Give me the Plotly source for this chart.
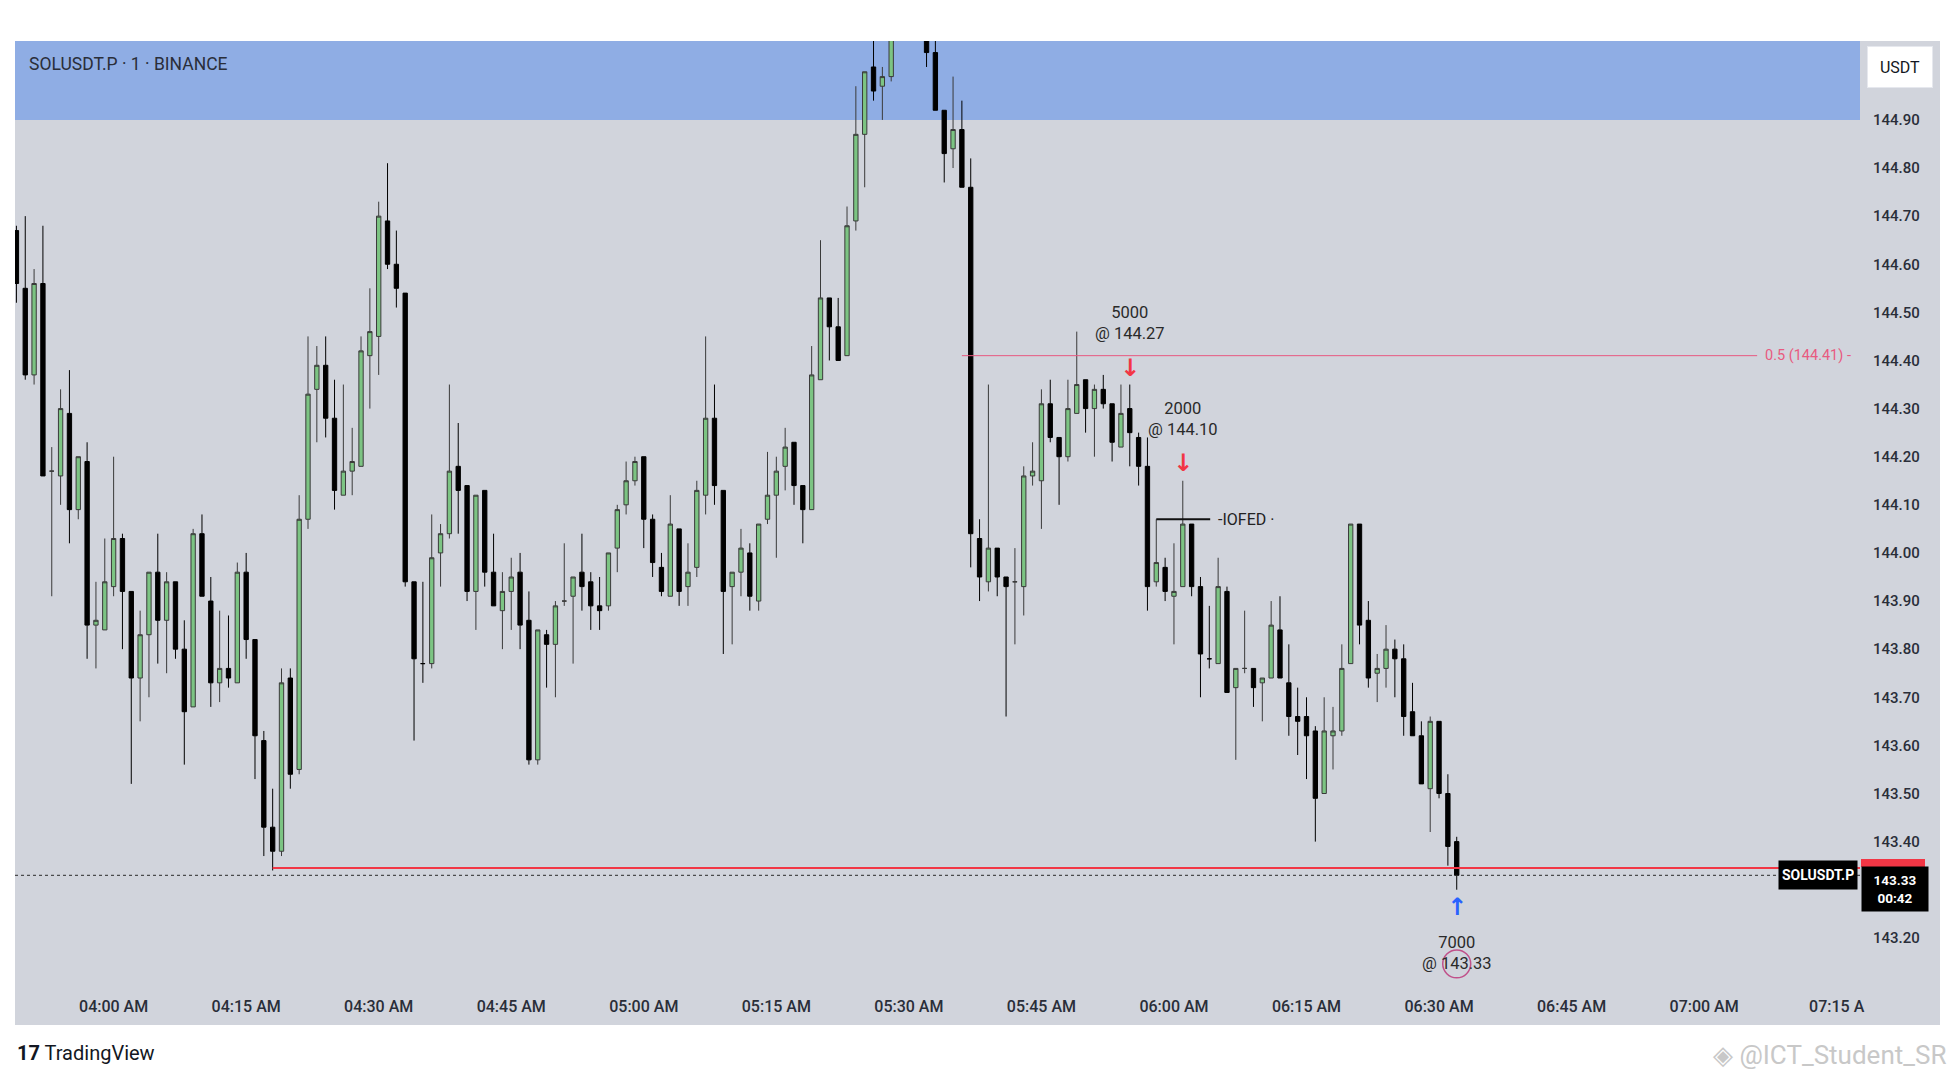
import pandas as pd
import plotly.graph_objects as go

# ---- data (SOLUSDT.P, 1 minute) ----
DAY = "2024-06-01"
first_bar = f"{DAY} 03:49"

opens = [
    144.67, 144.55, 144.37, 144.56, 144.17, 144.16, 144.29, 144.09, 144.19, 143.85, 143.84,
    143.93, 144.03, 143.92, 143.74, 143.83, 143.96, 143.86, 143.94, 143.80, 143.68,
    144.04, 143.90, 143.73, 143.76, 143.73, 143.96, 143.82, 143.61, 143.43, 143.38,
    143.74, 143.55, 144.07, 144.34, 144.39, 144.28, 144.12, 144.17, 144.18, 144.41,
    144.45, 144.69, 144.60, 144.54, 143.94, 143.77, 143.77, 144.00, 144.04, 144.18,
    144.14, 143.92, 144.13, 143.96, 143.88, 143.92, 143.96, 143.86, 143.57, 143.83,
    143.81, 143.90, 143.91, 143.96, 143.94, 143.89, 143.89, 144.01, 144.10, 144.15,
    144.20, 144.07, 143.97, 143.91, 144.05, 143.93, 143.97, 144.12, 144.28, 144.13,
    143.93, 143.96, 144.00, 143.90, 144.07, 144.12, 144.18, 144.23, 144.14, 144.09,
    144.36, 144.53, 144.47, 144.41, 144.69, 144.87, 145.01, 144.97, 144.99, 145.12,
    145.21, 145.16, 145.10, 145.04, 144.92, 144.84, 144.88, 144.76, 144.03, 143.94,
    144.01, 143.95, 143.94, 143.93, 144.16, 144.15, 144.31, 144.24, 144.20, 144.29,
    144.36, 144.30, 144.34, 144.31, 144.22, 144.30, 144.24, 144.18, 143.94, 143.97,
    143.91, 143.93, 144.06, 143.93, 143.78, 143.77, 143.92, 143.72, 143.76, 143.76,
    143.73, 143.74, 143.84, 143.73, 143.66, 143.66, 143.63, 143.50, 143.62, 143.63,
    143.77, 144.06, 143.86, 143.75, 143.76, 143.80, 143.78, 143.67, 143.62, 143.51,
    143.65, 143.50, 143.40,
]
highs = [
    144.68, 144.70, 144.59, 144.68, 144.22, 144.34, 144.38, 144.20, 144.23, 143.94, 144.03,
    144.20, 144.04, 143.92, 143.88, 143.96, 144.04, 143.96, 143.94, 143.86, 144.05,
    144.08, 143.95, 143.88, 143.87, 143.98, 144.00, 143.82, 143.63, 143.51, 143.76,
    143.76, 144.12, 144.45, 144.43, 144.45, 144.36, 144.35, 144.26, 144.45, 144.55,
    144.73, 144.81, 144.67, 144.54, 143.94, 143.94, 144.08, 144.06, 144.35, 144.27,
    144.14, 144.12, 144.13, 144.04, 143.96, 143.99, 144.00, 143.92, 143.84, 143.84,
    143.90, 144.02, 143.95, 144.04, 143.96, 143.95, 144.00, 144.10, 144.19, 144.20,
    144.20, 144.08, 144.00, 144.12, 144.05, 144.02, 144.15, 144.45, 144.35, 144.13,
    143.96, 144.05, 144.02, 144.06, 144.21, 144.20, 144.26, 144.23, 144.14, 144.43,
    144.65, 144.53, 144.53, 144.72, 144.97, 145.00, 145.09, 145.01, 145.16, 145.26,
    145.28, 145.19, 145.12, 145.07, 144.92, 144.99, 144.94, 144.82, 144.07, 144.35,
    144.01, 143.95, 144.01, 144.18, 144.23, 144.34, 144.36, 144.24, 144.36, 144.46,
    144.36, 144.35, 144.37, 144.31, 144.35, 144.35, 144.25, 144.24, 144.07, 143.99,
    144.02, 144.15, 144.06, 143.95, 143.89, 143.99, 143.93, 143.76, 143.88, 143.76,
    143.74, 143.90, 143.91, 143.81, 143.72, 143.70, 143.64, 143.70, 143.68, 143.81,
    144.06, 144.06, 143.90, 143.79, 143.85, 143.82, 143.81, 143.73, 143.65, 143.66,
    143.65, 143.54, 143.41,
]
lows = [
    144.52, 144.36, 144.35, 144.16, 143.91, 144.10, 144.02, 144.07, 143.78, 143.76, 143.84,
    143.91, 143.80, 143.52, 143.65, 143.70, 143.77, 143.75, 143.78, 143.56, 143.68,
    143.91, 143.68, 143.69, 143.72, 143.73, 143.78, 143.53, 143.37, 143.34, 143.37,
    143.51, 143.54, 144.05, 144.23, 144.24, 144.09, 144.12, 144.12, 144.18, 144.30,
    144.37, 144.59, 144.51, 143.93, 143.61, 143.73, 143.76, 143.93, 144.03, 144.04,
    143.90, 143.84, 143.93, 143.89, 143.80, 143.84, 143.80, 143.56, 143.56, 143.72,
    143.70, 143.89, 143.77, 143.88, 143.84, 143.84, 143.88, 143.96, 144.08, 144.14,
    144.01, 143.95, 143.91, 143.91, 143.89, 143.89, 143.95, 144.08, 144.10, 143.79,
    143.81, 143.91, 143.88, 143.88, 144.06, 143.99, 144.13, 144.10, 144.02, 144.09,
    144.36, 144.40, 144.40, 144.41, 144.67, 144.76, 144.94, 144.90, 144.98, 145.09,
    145.13, 145.07, 145.01, 144.92, 144.77, 144.80, 144.76, 143.97, 143.90, 143.92,
    143.91, 143.66, 143.81, 143.87, 144.14, 144.05, 144.23, 144.10, 144.19, 144.29,
    144.25, 144.20, 144.30, 144.19, 144.22, 144.18, 144.14, 143.88, 143.93, 143.90,
    143.81, 143.93, 143.91, 143.70, 143.76, 143.77, 143.71, 143.57, 143.75, 143.68,
    143.65, 143.74, 143.74, 143.62, 143.58, 143.53, 143.40, 143.50, 143.55, 143.62,
    143.77, 143.81, 143.72, 143.69, 143.72, 143.70, 143.62, 143.62, 143.52, 143.42,
    143.49, 143.35, 143.30,
]
closes = [
    144.56, 144.37, 144.56, 144.16, 144.17, 144.30, 144.09, 144.20, 143.85, 143.86, 143.94,
    144.03, 143.92, 143.74, 143.83, 143.96, 143.86, 143.94, 143.80, 143.67, 144.04,
    143.91, 143.73, 143.76, 143.74, 143.96, 143.82, 143.62, 143.43, 143.38, 143.73,
    143.54, 144.07, 144.33, 144.39, 144.28, 144.13, 144.17, 144.19, 144.42, 144.46,
    144.70, 144.60, 144.55, 143.94, 143.78, 143.77, 143.99, 144.04, 144.17, 144.13,
    143.92, 144.12, 143.96, 143.89, 143.92, 143.95, 143.85, 143.57, 143.84, 143.81,
    143.89, 143.90, 143.95, 143.93, 143.89, 143.88, 144.00, 144.09, 144.15, 144.19,
    144.07, 143.98, 143.92, 144.06, 143.92, 143.96, 144.13, 144.28, 144.14, 143.92,
    143.96, 144.01, 143.91, 144.06, 144.12, 144.17, 144.22, 144.14, 144.09, 144.37,
    144.53, 144.47, 144.40, 144.68, 144.87, 145.00, 144.96, 144.99, 145.12, 145.21,
    145.16, 145.10, 145.04, 144.92, 144.83, 144.88, 144.76, 144.04, 143.95, 144.01,
    143.95, 143.93, 143.94, 144.16, 144.17, 144.31, 144.24, 144.20, 144.30, 144.35,
    144.30, 144.34, 144.31, 144.23, 144.29, 144.25, 144.18, 143.93, 143.98, 143.92,
    143.92, 144.06, 143.93, 143.79, 143.78, 143.93, 143.71, 143.76, 143.76, 143.72,
    143.74, 143.85, 143.74, 143.66, 143.65, 143.62, 143.49, 143.63, 143.63, 143.76,
    144.06, 143.85, 143.74, 143.76, 143.80, 143.78, 143.66, 143.62, 143.52, 143.65,
    143.50, 143.39, 143.33,
]
bar_times = pd.date_range(first_bar, periods=len(opens), freq="1min")

price_ticks = [143.20, 143.40, 143.50, 143.60, 143.70, 143.80, 143.90, 144.00,
               144.10, 144.20, 144.30, 144.40, 144.50, 144.60, 144.70, 144.80, 144.90]
time_ticks = ["04:00", "04:15", "04:30", "04:45", "05:00", "05:15", "05:30",
              "05:45", "06:00", "06:15", "06:30", "06:45", "07:00", "07:15"]
time_labels = ["04:00 AM", "04:15 AM", "04:30 AM", "04:45 AM", "05:00 AM", "05:15 AM",
               "05:30 AM", "05:45 AM", "06:00 AM", "06:15 AM", "06:30 AM", "06:45 AM",
               "07:00 AM", "07:15 A"]

zone_low = 144.90          # blue supply zone, runs off the top
sweep_level = 143.345      # red low line from 04:18
fib_level = 144.41         # 0.5 retracement
iofed_level = 144.07
last_price = closes[-1]
countdown = "00:42"

# (size, fill price, bar time, side)
orders = [
    ("5000", "144.27", "05:55", "sell"),
    ("2000", "144.10", "06:01", "sell"),
    ("7000", "143.33", "06:32", "buy"),
]

# ---- page geometry (reference pixels) ----
PL, PT, PW, PH = 15, 41, 1845, 944   # price pane box
OFF = 8                               # default body margin of the html page
FIG_W, FIG_H = 1957 - 2 * OFF, 1080 - 2 * OFF


def xpap(px):
    return (px - PL) / PW


def ypap(py):
    return (PT + PH - py) / PH


def at(hhmm, sec=0):
    return pd.Timestamp(f"{DAY} {hhmm}") + pd.Timedelta(seconds=sec)


x_min = at("04:00") + pd.Timedelta(minutes=-11.16)
x_max = at("04:00") + pd.Timedelta(minutes=197.64)
y_min, y_max = 143.102, 145.064

GRAY = "#D1D4DC"
TEXT = "#131722"
RED = "#F23645"
PINK = "#E85A80"
BLUE = "#2962FF"

fig = go.Figure()
fig.add_trace(go.Candlestick(
    x=bar_times, open=opens, high=highs, low=lows, close=closes,
    increasing=dict(fillcolor="#7CC483", line=dict(color="#3a3a3a", width=1)),
    decreasing=dict(fillcolor="#000000", line=dict(color="#000000", width=1)),
    whiskerwidth=0, hoverinfo="skip", showlegend=False,
))

shapes = [
    # gray chart panel incl. price and time scales
    dict(type="rect", xref="paper", yref="paper", x0=0, x1=xpap(1940), y0=ypap(1025), y1=1,
         fillcolor=GRAY, line=dict(width=0), layer="below"),
    # supply zone
    dict(type="rect", xref="paper", yref="y", x0=0, x1=1, y0=zone_low, y1=y_max,
         fillcolor="#8FADE4", line=dict(width=0), layer="below"),
    # last price dotted line
    dict(type="line", xref="x", yref="y", x0=x_min, x1=x_max, y0=last_price, y1=last_price,
         line=dict(color="#2a2a2a", width=1, dash="dot")),
    # sell-side liquidity line
    dict(type="line", xref="x", yref="y", x0=at("04:18"), x1=x_max, y0=sweep_level, y1=sweep_level,
         line=dict(color=RED, width=2)),
    # fib 0.5
    dict(type="line", xref="x", yref="y", x0=at("05:36"), x1=at("07:06"), y0=fib_level, y1=fib_level,
         line=dict(color=PINK, width=1)),
    # IOFED marker
    dict(type="line", xref="x", yref="y", x0=at("05:58"), x1=at("06:04", 6), y0=iofed_level, y1=iofed_level,
         line=dict(color="#111111", width=2)),
    # cursor circle on the 7000 label
    dict(type="circle", xref="x", yref="y", x0=at("06:30", 25), x1=at("06:33", 35), y0=143.117, y1=143.175,
         line=dict(color="#C0508A", width=1.5)),
    # red level label peeking above the last-price label
    dict(type="rect", xref="paper", yref="paper", x0=xpap(1861), x1=xpap(1925), y0=ypap(867), y1=ypap(859),
         fillcolor=RED, line=dict(width=0)),
]


def note(text, x, y, xref="paper", yref="paper", **kw):
    d = dict(text=text, x=x, y=y, xref=xref, yref=yref, showarrow=False,
             xanchor=kw.pop("xanchor", "center"), yanchor=kw.pop("yanchor", "middle"))
    d.update(kw)
    return d


ann = [
    note("SOLUSDT.P · 1 · BINANCE", xpap(27), ypap(64), xanchor="left",
         font=dict(size=17.5, color="#2a2e39")),
    note("USDT", xpap(1900), ypap(67), width=62, height=38, bgcolor="#FFFFFF",
         bordercolor="#E6E8EE", borderwidth=1, font=dict(size=16, color=TEXT)),
    note(f"0.5 ({fib_level:.2f}) -", at("07:06", 40), fib_level, xref="x", yref="y",
         xanchor="left", font=dict(size=14.5, color=PINK)),
    note("-IOFED ·", at("06:04", 45), iofed_level, xref="x", yref="y",
         xanchor="left", font=dict(size=16, color="#222222")),
]

order_pos = {"05:55": (144.478, 144.384), "06:01": (144.278, 144.187), "06:32": (143.168, 143.264)}
for size, fill, hhmm, side in orders:
    text_y, arrow_y = order_pos[hhmm]
    ann.append(note(f"{size}<br>@ {fill}", at(hhmm), text_y, xref="x", yref="y",
                    font=dict(size=16.5, color="#2a2a2a")))
    ann.append(note("<b>↓</b>" if side == "sell" else "<b>↑</b>", at(hhmm), arrow_y, xref="x", yref="y",
                    font=dict(size=24, color=RED if side == "sell" else BLUE, family="DejaVu Sans")))

# price scale labels
ann.append(note("<b>SOLUSDT.P</b>", xpap(1858), last_price, yref="y", xanchor="right",
                height=22, bgcolor="#000000", borderpad=3, font=dict(size=14, color="#FFFFFF")))
ann.append(note(f"<b>{last_price:.2f}</b><br><b>{countdown}</b>", xpap(1861), ypap(866),
                xanchor="left", yanchor="top", width=64, height=42, bgcolor="#000000",
                font=dict(size=13.5, color="#FFFFFF")))

# footer
ann.append(note("<b>17</b> TradingView", xpap(15), ypap(1053), xanchor="left",
                font=dict(size=20, color=TEXT)))
ann.append(note("◈ @ICT_Student_SR", xpap(1948), ypap(1055), xanchor="right",
                font=dict(size=26, color="#C8C8C8")))

fig.update_layout(
    width=FIG_W, height=FIG_H,
    margin=dict(l=PL - OFF, t=PT - OFF, r=FIG_W - (PL - OFF) - PW, b=FIG_H - (PT - OFF) - PH),
    paper_bgcolor="#FFFFFF", plot_bgcolor=GRAY,
    font=dict(family="Roboto", color=TEXT),
    shapes=shapes, annotations=ann, showlegend=False,
    xaxis=dict(type="date", range=[x_min, x_max], rangeslider=dict(visible=False),
               tickvals=[at(t) for t in time_ticks], ticktext=time_labels,
               tickfont=dict(size=16, color="#2a2e39", weight=500), ticks="", ticklabelstandoff=10,
               showgrid=False, zeroline=False, showline=False),
    yaxis=dict(side="right", range=[y_min, y_max], tickvals=price_ticks, tickformat=".2f",
               tickfont=dict(size=15, color="#2a2e39", weight=500), ticks="", ticklabelstandoff=12,
               showgrid=False, zeroline=False, showline=False),
)

fig.write_html("out.html")
